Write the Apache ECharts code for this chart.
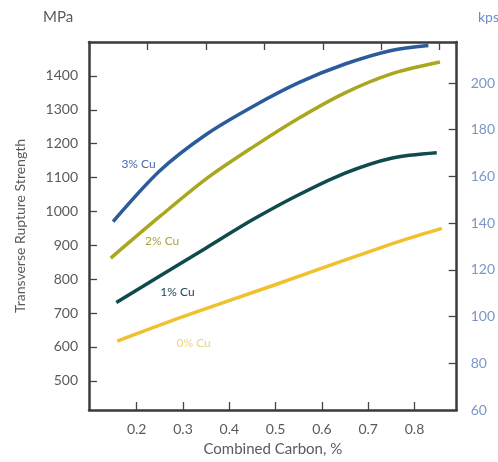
<!DOCTYPE html>
<html>
<head>
<meta charset="utf-8">
<script src="https://cdn.jsdelivr.net/npm/echarts@6/dist/echarts.min.js"></script>
<style>html,body{margin:0;padding:0;background:#fff;}#c{width:498px;height:462px;}</style>
</head>
<body>
<div id="c"></div>
<script>
// Data (x = combined carbon %, y = MPa)
const cu3 = [[0.149,970],[0.25,1120],[0.35,1227],[0.45,1309],[0.55,1380],[0.65,1435],[0.75,1475],[0.83,1490]];
const cu2 = [[0.144,862],[0.25,985],[0.35,1096],[0.45,1189],[0.55,1275],[0.65,1350],[0.75,1406],[0.855,1441]];
const cu1 = [[0.156,731],[0.25,809],[0.35,892],[0.45,975],[0.55,1049],[0.65,1113],[0.75,1157],[0.848,1173]];
const cu0 = [[0.158,617],[0.306,692],[0.496,782],[0.637,850],[0.777,916],[0.859,950]];
const seriesNames = ['3% Cu','2% Cu','1% Cu','0% Cu'];
const labelPos = [[0.204,1139],[0.255,912],[0.288,763],[0.323,610]];
const xTicks = [0.2,0.3,0.4,0.5,0.6,0.7,0.8];
const mpaTicks = [500,600,700,800,900,1000,1100,1200,1300,1400];
const ksiTicks = [60,80,100,120,140,160,180,200];

const MPA_PER_KSI = 6.895;
const ksiMin = 60, yMax = 1500;
const yMin = ksiMin * MPA_PER_KSI;
const FONT = 'Lato';
const frame = {show:true, lineStyle:{color:'#3a3a3a', width:2.5}};
const tickIn = {show:true, inside:true, length:8, lineStyle:{color:'#444', width:1.3}};

const colors = ['#2c5b9c','#a9a71f','#0f4a4c','#f0c12c'];
const labelColors = ['#4a6aaa','#a9a448','#1d4a52','#f0d47a'];
const datasets = [cu3, cu2, cu1, cu0];

const chart = echarts.init(document.getElementById('c'), null, {renderer:'canvas'});
chart.setOption({
  animation:false,
  backgroundColor:'#fff',
  textStyle:{fontFamily:FONT},
  grid:{left:89, right:33, top:42, bottom:48},
  xAxis:[
    {type:'value', position:'bottom', min:0.097, max:0.891,
     axisLine:frame, axisTick:Object.assign({}, tickIn, {customValues:xTicks}),
     axisLabel:{customValues:xTicks, color:'#5a5a5a', fontSize:14, fontFamily:FONT, margin:12, formatter:v=>v.toFixed(1)},
     splitLine:{show:false},
     name:'Combined Carbon, %', nameLocation:'middle', nameGap:32,
     nameTextStyle:{color:'#5a5a5a', fontSize:15, fontFamily:FONT}},
    {type:'value', position:'top', min:0, max:6.29, interval:1,
     axisLine:frame, axisTick:tickIn, axisLabel:{show:false}, splitLine:{show:false}}
  ],
  yAxis:[
    {type:'value', position:'left', min:yMin, max:yMax,
     axisLine:frame, axisTick:Object.assign({}, tickIn, {customValues:mpaTicks}),
     axisLabel:{customValues:mpaTicks, color:'#5a5a5a', fontSize:14, fontFamily:FONT, margin:11, formatter:v=>String(Math.round(v))},
     splitLine:{show:false},
     name:'Transverse Rupture Strength', nameLocation:'middle', nameGap:62, nameRotate:90,
     nameTextStyle:{color:'#5a5a5a', fontSize:14, fontFamily:FONT}},
    {type:'value', position:'right', min:ksiMin, max:yMax/MPA_PER_KSI,
     axisLine:frame, axisTick:Object.assign({}, tickIn, {customValues:ksiTicks.filter(v=>v>ksiMin)}),
     axisLabel:{customValues:ksiTicks, color:'#7a96c8', fontSize:14, fontFamily:FONT, margin:14, formatter:v=>String(Math.round(v))},
     splitLine:{show:false}}
  ],
  graphic:[
    {type:'text', left:43, top:10, style:{text:'MPa', fill:'#5a5a5a', font:'15px '+FONT}},
    {type:'text', left:478, top:10, style:{text:'kpsi', fill:'#6a8cc8', font:'14px '+FONT}}
  ],
  series: datasets.map((d,i)=>({
    name:seriesNames[i], type:'line', data:d, smooth:0.3, symbol:'none',
    xAxisIndex:0, yAxisIndex:0,
    lineStyle:{color:colors[i], width:3.5, cap:'butt'},
    markPoint:{symbol:'circle', symbolSize:0, silent:true,
      data:[{coord:labelPos[i], value:seriesNames[i]}],
      label:{show:true, position:'inside', formatter:seriesNames[i], color:labelColors[i], fontSize:12, fontFamily:FONT}}
  }))
});
</script>
</body>
</html>
